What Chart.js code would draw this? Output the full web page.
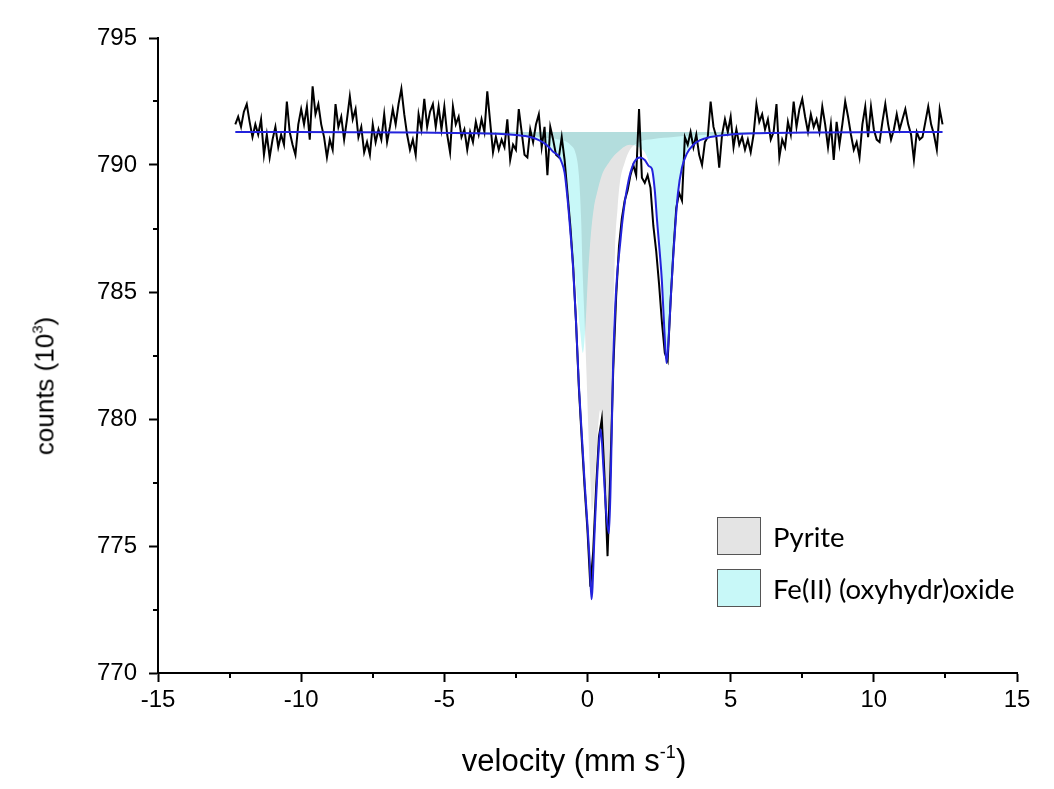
<!DOCTYPE html>
<html>
<head>
<meta charset="utf-8">
<script src="https://cdn.jsdelivr.net/npm/chart.js@4.4.1/dist/chart.umd.min.js"></script>
<style>
  html, body { margin: 0; padding: 0; background: #fff; }
  #wrap { position: relative; width: 1054px; height: 789px; overflow: hidden; }
  #chart { position: absolute; left: 0; top: 0; }
  .axis-title { position: absolute; font-family: 'Liberation Sans', Arial, sans-serif; color: #000; white-space: nowrap; }
  .axis-title sup { line-height: 0; }
  #ytitle { left: 45px; top: 386px; font-size: 26px; transform: translate(-50%, -50%) rotate(-90deg); }
  #ytitle sup { font-size: 15px; vertical-align: 11px; }
  #xtitle { left: 574px; top: 761px; font-size: 31px; transform: translate(-50%, -50%); }
  #xtitle sup { font-size: 18px; vertical-align: 13px; }
  .legend { position: absolute; left: 717px; top: 510px; font-family: Lato, 'Open Sans', sans-serif; font-size: 27.5px; color: #000; }
  .legend .row { display: flex; align-items: center; height: 52px; }
  .legend .sw { width: 44px; height: 38px; border: 1.5px solid #555; margin-right: 12px; box-sizing: border-box; }
</style>
</head>
<body>
<div id="wrap">
  <canvas id="chart" width="1054" height="789"></canvas>
  <div class="axis-title" id="ytitle">counts (10<sup>3</sup>)</div>
  <div class="axis-title" id="xtitle">velocity (mm s<sup>-1</sup>)</div>
  <div class="legend">
    <div class="row"><div class="sw" style="background:#e4e4e4"></div>Pyrite</div>
    <div class="row"><div class="sw" style="background:#c8f8f8"></div>Fe(II) (oxyhydr)oxide</div>
  </div>
</div>
<script>
// measured spectrum, one point every 0.1 mm/s starting at -12.3
const velStart = -12.3
const velStep = 0.1
const counts = [
  791.6, 791.9, 791.5, 792.1, 792.4, 791.7, 791.1, 791.6, 791.2, 791.8,
  790.4, 791.2, 790.3, 791.0, 791.5, 790.7, 791.2, 790.8, 792.5, 791.3,
  790.8, 790.4, 791.6, 792.2, 791.6, 792.3, 791.0, 793.1, 792.0, 792.4,
  791.6, 791.1, 790.3, 791.0, 790.6, 792.4, 791.5, 791.9, 791.0, 791.8,
  792.7, 791.8, 792.2, 791.1, 791.5, 790.5, 790.9, 790.4, 791.6, 790.9,
  791.4, 791.0, 792.0, 790.9, 791.5, 792.2, 791.6, 792.4, 793.0, 792.0,
  791.2, 790.6, 791.0, 790.4, 792.0, 791.4, 792.6, 791.5, 792.1, 792.4,
  791.5, 792.3, 791.4, 792.3, 791.2, 790.5, 792.3, 791.6, 791.9, 791.1,
  791.4, 790.6, 791.3, 790.9, 791.7, 791.2, 791.8, 791.3, 792.9, 791.7,
  790.5, 791.1, 790.6, 791.0, 790.7, 791.8, 790.2, 790.8, 790.6, 792.2,
  791.3, 790.4, 790.3, 791.4, 790.9, 791.6, 792.0, 790.7, 791.5, 789.6,
  791.5, 791.0, 790.4, 790.3, 791.1, 790.2, 788.9, 787.6, 786.0, 783.8,
  781.2, 779.2, 777.3, 775.6, 773.4, 774.8, 777.3, 779.3, 780.0, 777.6,
  774.6, 778.0, 782.0, 784.8, 786.8, 787.9, 788.6, 789.0, 789.6, 790.0,
  789.6, 792.2, 789.5, 789.3, 789.6, 789.1, 787.6, 786.6, 785.3, 783.8,
  782.6, 782.3, 784.6, 786.6, 788.3, 788.9, 788.6, 791.1, 790.8, 791.3,
  790.7, 791.2, 790.4, 790.0, 790.9, 791.1, 792.5, 791.5, 791.1, 789.9,
  791.2, 791.8, 791.3, 791.9, 790.7, 791.4, 790.8, 791.1, 790.6, 791.0,
  790.5, 791.2, 792.4, 791.7, 792.0, 791.4, 791.8, 791.0, 791.3, 792.4,
  790.3, 791.0, 790.7, 791.7, 791.2, 792.5, 791.5, 792.2, 792.6, 791.9,
  791.3, 792.0, 791.5, 791.8, 791.3, 792.3, 791.6, 790.7, 791.6, 790.2,
  791.7, 790.8, 791.6, 792.5, 791.9, 791.2, 790.6, 790.9, 790.3, 791.6,
  792.3, 791.1, 792.3, 791.4, 791.0, 790.9, 791.7, 792.4, 791.6, 791.0,
  791.4, 792.0, 791.4, 791.8, 792.2, 791.6, 791.2, 790.2, 791.3, 791.0,
  791.1, 791.7, 792.3, 791.6, 791.2, 790.6, 792.2, 791.6
]

// total fit (blue)
const fitVel = [-12.3, -6, -4, -3, -2.5, -2, -1.7, -1.5, -1.3, -1.2, -1.0, -0.9, -0.8, -0.7, -0.6, -0.5, -0.4, -0.3, -0.2, -0.1,
  0.0, 0.07, 0.14, 0.25, 0.35, 0.46, 0.56, 0.66, 0.75, 0.82, 0.89, 0.96, 1.03, 1.14, 1.22, 1.31, 1.4, 1.5, 1.65, 1.83,
  2.0, 2.15, 2.25, 2.35, 2.43, 2.52, 2.6, 2.68, 2.76, 2.84, 2.92, 3.0, 3.06, 3.16, 3.3, 3.47, 3.7, 3.93, 4.28, 5, 6, 8, 12.4]
const fitCounts = [791.3, 791.28, 791.25, 791.22, 791.18, 791.1, 790.98, 790.85, 790.65, 790.52, 790.35, 790.1, 789.7, 788.7, 787.4, 785.9, 783.8, 781.3, 779.4, 777.5,
  775.8, 774.5, 772.9, 775.6, 778.0, 779.6, 778.0, 776.2, 775.5, 778.0, 781.9, 784.2, 785.6, 786.9, 787.8, 788.6, 789.2, 789.7, 790.15, 790.3,
  790.2, 789.95, 789.85, 789.0, 787.8, 786.6, 785.4, 783.6, 782.2, 783.3, 785.0, 786.5, 787.5, 788.9, 789.9, 790.45, 790.8, 790.98, 791.1, 791.2, 791.25, 791.28, 791.3]

// pyrite doublet (grey)
const pyriteVel = [-12.3, -4, -3, -2.5, -2, -1.5, -1.0, -0.6, -0.4, -0.3, -0.22, -0.17, -0.1, -0.03, 0.04, 0.1, 0.16, 0.25, 0.35, 0.44,
  0.55, 0.65, 0.75, 0.82, 0.89, 0.96, 1.05, 1.13, 1.3, 1.48, 1.8, 2.3, 3.0, 3.5, 4.5, 12.4]
const pyriteCounts = [791.3, 791.27, 791.24, 791.2, 791.15, 791.07, 791.0, 790.8, 790.4, 789.6, 787.8, 785.8, 783.8, 781.6, 779.2, 777.6, 776.4, 777.4, 779.3, 780.35,
  779.0, 777.3, 775.8, 779.2, 783.0, 786.6, 788.3, 789.3, 790.1, 790.6, 790.9, 791.02, 791.1, 791.15, 791.2, 791.3]

// Fe(II) (oxyhydr)oxide doublet (cyan)
const feVel = [-12.3, -4, -3, -2, -1.5, -1.2, -1.0, -0.8, -0.65, -0.5, -0.35, -0.25, -0.16, -0.08, 0.02, 0.12, 0.22, 0.33, 0.5, 0.75,
  1.0, 1.48, 1.8, 2.0, 2.2, 2.35, 2.45, 2.55, 2.62, 2.7, 2.76, 2.82, 2.9, 2.98, 3.06, 3.16, 3.3, 3.47, 3.7, 4.0, 4.5, 6, 12.4]
const feCounts = [791.3, 791.25, 791.2, 791.1, 790.9, 790.6, 790.3, 789.7, 788.6, 786.5, 784.6, 783.4, 782.6, 783.5, 785.7, 787.3, 788.3, 788.9, 789.6, 790.1,
  790.45, 790.8, 790.7, 790.5, 789.9, 789.1, 787.9, 786.4, 785.0, 783.3, 782.3, 783.1, 784.9, 786.4, 787.7, 789.0, 790.0, 790.55, 790.9, 791.05, 791.15, 791.25, 791.3]

const baseline = 791.3
const xMinorTicks = [-12.5, -7.5, -2.5, 2.5, 7.5, 12.5]
const yMinorTicks = [772.5, 777.5, 782.5, 787.5, 792.5]

const pts = (xs, ys) => ys.map((y, i) => ({ x: xs[i], y: y }))
const measured = counts.map((c, i) => ({ x: +(velStart + i * velStep).toFixed(2), y: c }))

const tickFont = { family: "'Liberation Sans', Arial, sans-serif", size: 24 }

// overlapping fills look like the original (multiplied colours)
const blend = {
  id: 'blend',
  beforeDatasetsDraw(chart) { chart.ctx.globalCompositeOperation = 'multiply' },
  beforeDatasetDraw(chart, args) {
    const ds = chart.data.datasets[args.index]
    chart.ctx.globalCompositeOperation = ds.fill ? 'multiply' : 'source-over'
  },
  afterDatasetsDraw(chart) { chart.ctx.globalCompositeOperation = 'source-over' }
}

const minorTicks = {
  id: 'minorTicks',
  afterDraw(chart) {
    const { ctx, chartArea, scales: { x, y } } = chart
    ctx.save()
    ctx.strokeStyle = '#000'
    ctx.lineWidth = 2
    xMinorTicks.forEach(v => {
      const px = Math.round(x.getPixelForValue(v))
      ctx.beginPath(); ctx.moveTo(px, chartArea.bottom); ctx.lineTo(px, chartArea.bottom + 5); ctx.stroke()
    })
    yMinorTicks.forEach(v => {
      const py = Math.round(y.getPixelForValue(v))
      ctx.beginPath(); ctx.moveTo(chartArea.left, py); ctx.lineTo(chartArea.left - 5, py); ctx.stroke()
    })
    ctx.restore()
  }
}

new Chart(document.getElementById('chart'), {
  type: 'line',
  data: {
    datasets: [
      { label: 'fit', data: pts(fitVel, fitCounts), borderColor: '#2323dc', borderWidth: 2, pointRadius: 0, fill: false, cubicInterpolationMode: 'monotone', order: 0 },
      { label: 'data', data: measured, borderColor: '#000', borderWidth: 2, pointRadius: 0, fill: false, tension: 0, order: 1 },
      { label: 'Pyrite', data: pts(pyriteVel, pyriteCounts), borderWidth: 0, borderColor: 'rgba(0,0,0,0)', backgroundColor: '#e4e4e4', pointRadius: 0, fill: { value: baseline }, cubicInterpolationMode: 'monotone', order: 2 },
      { label: 'Fe(II) (oxyhydr)oxide', data: pts(feVel, feCounts), borderWidth: 0, borderColor: 'rgba(0,0,0,0)', backgroundColor: '#c8f8f8', pointRadius: 0, fill: { value: baseline }, cubicInterpolationMode: 'monotone', order: 3 }
    ]
  },
  options: {
    responsive: false,
    animation: false,
    devicePixelRatio: 1,
    layout: { padding: { left: 0, top: 38, right: 37, bottom: 0 } },
    plugins: { legend: { display: false }, tooltip: { enabled: false } },
    scales: {
      x: {
        type: 'linear', min: -15, max: 15,
        ticks: { stepSize: 5, font: tickFont, color: '#000', padding: 4, maxRotation: 0 },
        grid: { drawOnChartArea: false, drawTicks: true, tickLength: 9, tickWidth: 2, tickColor: '#000' },
        border: { display: true, color: '#000', width: 2 },
        afterFit: s => { s.height = 116 }
      },
      y: {
        type: 'linear', min: 770, max: 795,
        ticks: { stepSize: 5, font: tickFont, color: '#000', padding: 12 },
        grid: { drawOnChartArea: false, drawTicks: true, tickLength: 9, tickWidth: 2, tickColor: '#000' },
        border: { display: true, color: '#000', width: 2 },
        afterFit: s => { s.width = 158 }
      }
    }
  },
  plugins: [blend, minorTicks]
})
</script>
</body>
</html>
